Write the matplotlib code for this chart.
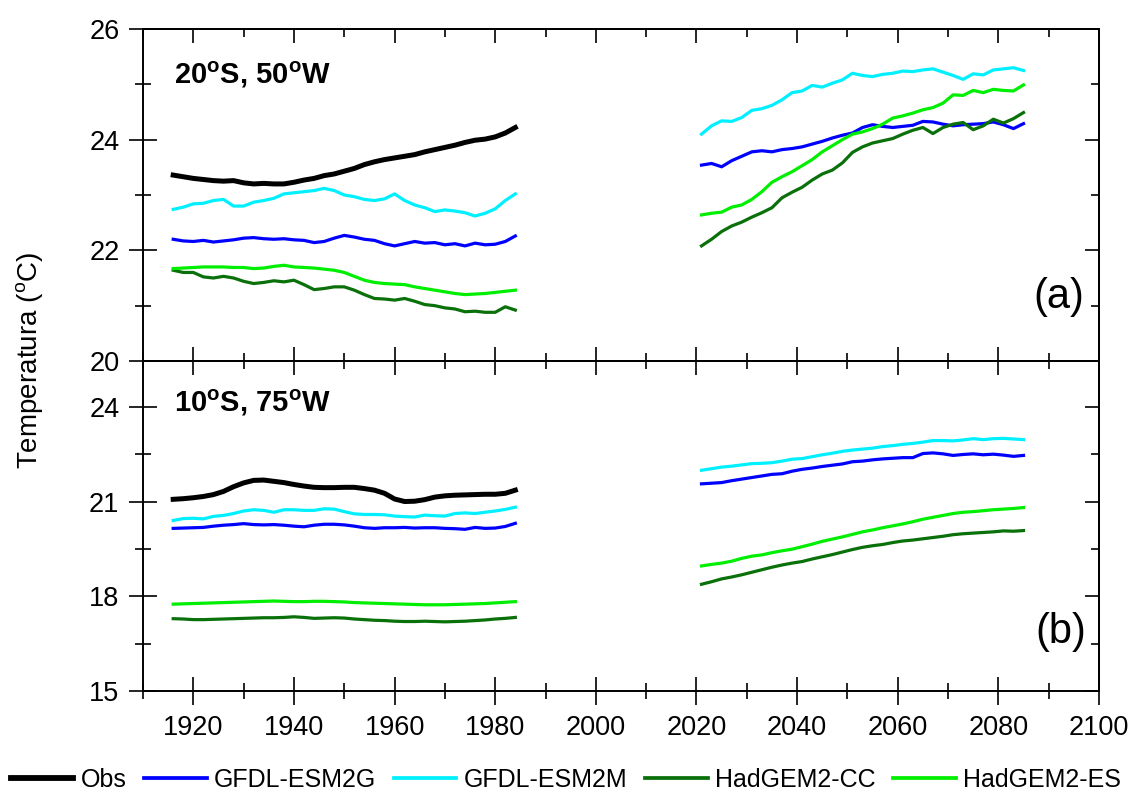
import numpy as np
import matplotlib
matplotlib.use("Agg")
import matplotlib.pyplot as plt
from matplotlib.ticker import MultipleLocator
from matplotlib.lines import Line2D

plt.rcParams['font.family'] = ['Liberation Sans', 'DejaVu Sans']
plt.rcParams['mathtext.fontset'] = 'custom'
plt.rcParams['mathtext.rm'] = 'Liberation Sans'
plt.rcParams['mathtext.bf'] = 'Liberation Sans:bold'

# ---------------- data ----------------
years_hist = np.arange(1916, 1985, 2)
years_fut = np.arange(2021, 2086, 2)

series_names = ["Obs", "GFDL-ESM2G", "GFDL-ESM2M", "HadGEM2-CC", "HadGEM2-ES"]
series_colors = ["#000000", "#0000ff", "#00f0ff", "#0a700a", "#00ee00"]

# Panel (a) 20S, 50W
a_obs = [23.36, 23.33, 23.30, 23.28, 23.26, 23.25, 23.26, 23.22, 23.20, 23.21,
         23.20, 23.20, 23.23, 23.27, 23.30, 23.35, 23.38, 23.43, 23.48, 23.55,
         23.60, 23.64, 23.67, 23.70, 23.73, 23.78, 23.82, 23.86, 23.90, 23.95,
         23.99, 24.01, 24.05, 24.12, 24.22]
a_esm2g_hist = [22.20, 22.17, 22.16, 22.18, 22.15, 22.17, 22.19, 22.22, 22.23, 22.21,
                22.20, 22.21, 22.19, 22.18, 22.14, 22.16, 22.22, 22.27, 22.24, 22.20,
                22.18, 22.12, 22.08, 22.12, 22.16, 22.13, 22.14, 22.10, 22.12, 22.08,
                22.13, 22.10, 22.11, 22.16, 22.26]
a_esm2m_hist = [22.74, 22.78, 22.84, 22.85, 22.90, 22.92, 22.80, 22.80, 22.87, 22.90,
                22.94, 23.02, 23.04, 23.06, 23.08, 23.12, 23.08, 23.00, 22.97, 22.92,
                22.90, 22.93, 23.02, 22.90, 22.82, 22.77, 22.70, 22.73, 22.71, 22.68,
                22.62, 22.67, 22.75, 22.90, 23.02]
a_cc_hist = [21.64, 21.60, 21.60, 21.52, 21.50, 21.53, 21.50, 21.44, 21.40, 21.42,
             21.45, 21.43, 21.46, 21.38, 21.29, 21.31, 21.34, 21.34, 21.28, 21.20,
             21.13, 21.12, 21.10, 21.13, 21.08, 21.02, 21.00, 20.96, 20.94, 20.89,
             20.90, 20.88, 20.88, 20.98, 20.92]
a_es_hist = [21.67, 21.68, 21.69, 21.70, 21.70, 21.70, 21.69, 21.69, 21.67, 21.68,
             21.71, 21.73, 21.70, 21.69, 21.68, 21.66, 21.64, 21.60, 21.53, 21.46,
             21.42, 21.40, 21.39, 21.38, 21.34, 21.31, 21.28, 21.25, 21.22, 21.20,
             21.21, 21.22, 21.24, 21.26, 21.28]
a_esm2g_fut = [23.54, 23.57, 23.51, 23.62, 23.70, 23.78, 23.80, 23.78, 23.82, 23.84,
               23.87, 23.92, 23.97, 24.03, 24.08, 24.12, 24.22, 24.27, 24.24, 24.22,
               24.24, 24.26, 24.33, 24.32, 24.28, 24.25, 24.27, 24.28, 24.29, 24.32,
               24.27, 24.20, 24.29]
a_esm2m_fut = [24.10, 24.25, 24.34, 24.33, 24.40, 24.53, 24.56, 24.62, 24.72, 24.85,
               24.88, 24.98, 24.95, 25.02, 25.08, 25.20, 25.16, 25.14, 25.18, 25.20,
               25.24, 25.23, 25.26, 25.28, 25.22, 25.16, 25.09, 25.19, 25.17, 25.26,
               25.28, 25.30, 25.25]
a_cc_fut = [22.08, 22.20, 22.34, 22.44, 22.51, 22.60, 22.68, 22.77, 22.95, 23.05,
            23.14, 23.27, 23.38, 23.45, 23.58, 23.77, 23.87, 23.94, 23.98, 24.02,
            24.10, 24.17, 24.22, 24.11, 24.22, 24.28, 24.31, 24.18, 24.25, 24.37,
            24.30, 24.38, 24.49]
a_es_fut = [22.64, 22.67, 22.69, 22.78, 22.82, 22.92, 23.06, 23.23, 23.33, 23.42,
            23.53, 23.64, 23.78, 23.89, 24.00, 24.10, 24.14, 24.20, 24.28, 24.39,
            24.43, 24.48, 24.54, 24.58, 24.66, 24.81, 24.80, 24.89, 24.85, 24.91,
            24.89, 24.88, 24.99]

# Panel (b) 10S, 75W
b_obs = [21.07, 21.09, 21.12, 21.16, 21.22, 21.32, 21.47, 21.59, 21.67, 21.68,
         21.64, 21.60, 21.54, 21.49, 21.45, 21.44, 21.44, 21.45, 21.45, 21.41,
         21.36, 21.26, 21.08, 21.00, 21.01, 21.06, 21.14, 21.18, 21.20, 21.21,
         21.22, 21.23, 21.23, 21.26, 21.36]
b_esm2g_hist = [20.15, 20.16, 20.17, 20.18, 20.22, 20.25, 20.27, 20.30, 20.27, 20.26,
                20.27, 20.25, 20.22, 20.20, 20.25, 20.28, 20.28, 20.26, 20.22, 20.17,
                20.15, 20.17, 20.17, 20.18, 20.16, 20.17, 20.17, 20.15, 20.14, 20.12,
                20.18, 20.15, 20.16, 20.21, 20.31]
b_esm2m_hist = [20.40, 20.46, 20.47, 20.45, 20.53, 20.56, 20.62, 20.70, 20.74, 20.72,
                20.66, 20.74, 20.74, 20.72, 20.72, 20.77, 20.76, 20.68, 20.61, 20.59,
                20.59, 20.58, 20.54, 20.52, 20.51, 20.57, 20.55, 20.54, 20.62, 20.64,
                20.62, 20.66, 20.70, 20.75, 20.82]
b_cc_hist = [17.29, 17.28, 17.26, 17.26, 17.27, 17.28, 17.29, 17.30, 17.31, 17.32,
             17.32, 17.33, 17.35, 17.33, 17.30, 17.31, 17.32, 17.31, 17.28, 17.26,
             17.24, 17.23, 17.21, 17.20, 17.20, 17.21, 17.20, 17.19, 17.20, 17.21,
             17.23, 17.25, 17.28, 17.30, 17.33]
b_es_hist = [17.75, 17.76, 17.77, 17.78, 17.79, 17.80, 17.81, 17.82, 17.83, 17.84,
             17.85, 17.84, 17.83, 17.83, 17.84, 17.84, 17.83, 17.82, 17.80, 17.79,
             17.78, 17.77, 17.76, 17.75, 17.74, 17.73, 17.73, 17.73, 17.74, 17.75,
             17.76, 17.77, 17.79, 17.81, 17.83]
b_esm2g_fut = [21.56, 21.58, 21.60, 21.66, 21.71, 21.76, 21.81, 21.86, 21.88, 21.96,
               22.02, 22.06, 22.11, 22.15, 22.19, 22.26, 22.28, 22.32, 22.35, 22.37,
               22.39, 22.39, 22.52, 22.54, 22.51, 22.46, 22.49, 22.51, 22.48, 22.50,
               22.47, 22.43, 22.46]
b_esm2m_fut = [21.99, 22.04, 22.09, 22.12, 22.16, 22.20, 22.21, 22.23, 22.28, 22.34,
               22.36, 22.42, 22.48, 22.53, 22.59, 22.63, 22.66, 22.69, 22.74, 22.77,
               22.81, 22.84, 22.88, 22.93, 22.93, 22.92, 22.95, 22.99, 22.96, 22.99,
               23.00, 22.98, 22.96]
b_cc_fut = [18.38, 18.46, 18.55, 18.61, 18.68, 18.76, 18.84, 18.92, 18.99, 19.05,
            19.10, 19.18, 19.25, 19.32, 19.40, 19.48, 19.55, 19.60, 19.64, 19.70,
            19.75, 19.78, 19.82, 19.86, 19.90, 19.95, 19.98, 20.00, 20.02, 20.04,
            20.07, 20.06, 20.08]
b_es_fut = [18.96, 19.01, 19.05, 19.11, 19.20, 19.27, 19.31, 19.38, 19.44, 19.49,
            19.57, 19.65, 19.74, 19.81, 19.88, 19.96, 20.04, 20.10, 20.17, 20.23,
            20.29, 20.36, 20.44, 20.50, 20.56, 20.62, 20.66, 20.68, 20.71, 20.74,
            20.76, 20.78, 20.81]

a_yticks = [20, 22, 24, 26]
b_yticks = [15, 18, 21, 24]
xticks = [1920, 1940, 1960, 1980, 2000, 2020, 2040, 2060, 2080, 2100]

# ---------------- figure ----------------
fig = plt.figure(figsize=(11.32, 7.96), dpi=100)
L, R = 143 / 1132, 1099 / 1132
def fy(px):
    return 1 - px / 796
ax1 = fig.add_axes([L, fy(361), R - L, fy(29) - fy(361)])
ax2 = fig.add_axes([L, fy(691), R - L, fy(361) - fy(691)])

OBS_LW = 3.6
MOD_LW = 2.3
TICK_FS = 19.5

def draw(ax, obs, hist, fut):
    for k in range(4):
        ax.plot(years_hist, hist[k], color=series_colors[k + 1], lw=MOD_LW, zorder=2)
        ax.plot(years_fut, fut[k], color=series_colors[k + 1], lw=MOD_LW, zorder=2)
    ax.plot(years_hist, obs, color=series_colors[0], lw=OBS_LW, zorder=3)

draw(ax1, a_obs, [a_esm2g_hist, a_esm2m_hist, a_cc_hist, a_es_hist],
     [a_esm2g_fut, a_esm2m_fut, a_cc_fut, a_es_fut])
draw(ax2, b_obs, [b_esm2g_hist, b_esm2m_hist, b_cc_hist, b_es_hist],
     [b_esm2g_fut, b_esm2m_fut, b_cc_fut, b_es_fut])

def style(ax, ylim, yticks, yminor, show_xlabels):
    ax.set_xlim(1910, 2100)
    ax.set_ylim(*ylim)
    ax.set_xticks(xticks)
    ax.xaxis.set_minor_locator(MultipleLocator(10))
    ax.set_yticks(yticks)
    ax.yaxis.set_minor_locator(MultipleLocator(yminor))
    for s in ax.spines.values():
        s.set_linewidth(1.4)
    ax.tick_params(which='major', direction='inout', length=20, width=1.2,
                   labelsize=TICK_FS, pad=7, top=False, right=False)
    ax.tick_params(which='minor', direction='inout', length=11, width=1.2,
                   top=False, right=False)
    ax.tick_params(axis='x', labelbottom=show_xlabels)
    # top / right inward ticks
    sx = ax.secondary_xaxis('top')
    sx.set_xticks(xticks)
    sx.xaxis.set_minor_locator(MultipleLocator(10))
    sx.tick_params(which='major', direction='in', length=10, width=1.2,
                   labeltop=False, labelbottom=False)
    sx.tick_params(which='minor', direction='in', length=6, width=1.2)
    sx.spines['top'].set_linewidth(1.4)
    sy = ax.secondary_yaxis('right')
    sy.set_yticks(yticks)
    sy.yaxis.set_minor_locator(MultipleLocator(yminor))
    sy.tick_params(which='major', direction='in', length=10, width=1.2,
                   labelright=False, labelleft=False)
    sy.tick_params(which='minor', direction='in', length=6, width=1.2)
    sy.spines['right'].set_linewidth(1.4)

style(ax1, (20, 26), a_yticks, 1, False)
style(ax2, (15, 25.45), b_yticks, 1.5, True)

ax1.text(0.032, 0.862, r"20$^{\mathbf{o}}$S, 50$^{\mathbf{o}}$W", transform=ax1.transAxes,
         fontsize=21, fontweight='bold', ha='left', va='center')
ax2.text(0.032, 0.873, r"10$^{\mathbf{o}}$S, 75$^{\mathbf{o}}$W", transform=ax2.transAxes,
         fontsize=21, fontweight='bold', ha='left', va='center')
ax1.text(0.985, 0.193, "(a)", transform=ax1.transAxes, fontsize=30, ha='right', va='center')
ax2.text(0.987, 0.18, "(b)", transform=ax2.transAxes, fontsize=30, ha='right', va='center')

fig.text(30 / 1132, fy(360), r"Temperatura ($^{\rm o}$C)", rotation=90,
         fontsize=20, ha='center', va='center')

handles = [Line2D([], [], color=series_colors[0], lw=OBS_LW + 0.6)] + \
          [Line2D([], [], color=c, lw=MOD_LW + 0.4) for c in series_colors[1:]]
fig.legend(handles, series_names, loc='center', bbox_to_anchor=(0.5, fy(780)),
           ncol=5, frameon=False, fontsize=18, handlelength=2.5,
           handletextpad=0.3, columnspacing=0.7)

fig.savefig("out.png", dpi=100)
